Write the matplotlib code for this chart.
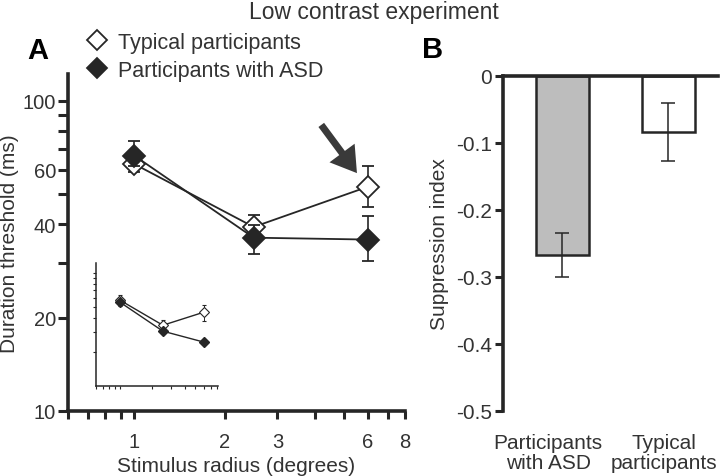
import numpy as np
import matplotlib
matplotlib.use('Agg')
import matplotlib.pyplot as plt
import matplotlib.transforms as mtransforms
from matplotlib.patches import FancyArrowPatch
from matplotlib.lines import Line2D

plt.rcParams['font.family'] = ['Liberation Sans', 'DejaVu Sans']
plt.rcParams['font.size'] = 15

# ---- data (panel A, main) ----
radius = [1.0, 2.5, 6.0]
typical_thr = [62.5, 39.2, 52.8]
typical_lo = [3.5, 3.0, 7.3]
typical_hi = [2.2, 3.7, 8.9]
asd_thr = [66.5, 36.2, 35.7]
asd_lo = [5.0, 4.1, 5.2]
asd_hi = [7.8, 3.5, 6.9]

# ---- data (panel A, inset) ----
inset_radius = [1.0, 2.5, 6.0]
inset_typical = [57.3, 34.4, 44.9]
inset_typical_err = [6.0, 4.0, 7.5]
inset_asd = [55.0, 30.5, 24.4]

# ---- data (panel B) ----
groups = ['Participants\nwith ASD', 'Typical\nparticipants']
supp = [-0.268, -0.084]
supp_err = [0.033, 0.043]
bar_colors = ['#bdbdbd', 'white']

# arrow annotation (data coords of panel A)
arrow_from = (4.15, 85.0)
arrow_to = (5.6, 57.5)

dark = '#262626'
txt = '#333333'

fig = plt.figure(figsize=(7.2, 4.77), dpi=100)

# ================= panel A =================
ax = fig.add_axes([68/720, 1-412/477, 337/720, 337/477])
ax.set_xscale('log')
ax.set_yscale('log')
ax.set_xlim(0.6, 8.0)
ax.set_ylim(10, 122)

ax.errorbar(radius, typical_thr, yerr=[typical_lo, typical_hi], color=dark,
            lw=1.3, marker='D', ms=11, mfc='white', mec=dark, mew=1.3,
            capsize=4, elinewidth=1.2, capthick=1.2, zorder=3)
ax.errorbar(radius, asd_thr, yerr=[asd_lo, asd_hi], color=dark,
            lw=1.3, marker='D', ms=11, mfc=dark, mec=dark, mew=1.3,
            capsize=4, elinewidth=1.2, capthick=1.2, zorder=4)

yt = [10, 20, 30, 40, 50, 60, 70, 80, 90, 100]
ax.set_yticks(yt, [str(v) if v in (10, 20, 40, 60, 100) else '' for v in yt])
xt = [0.6, 0.7, 0.8, 0.9, 1, 2, 3, 4, 5, 6, 7, 8]
ax.set_xticks(xt, [str(v) if v in (1, 2, 3, 6, 8) else '' for v in xt])
ax.minorticks_off()
ax.tick_params(axis='y', which='major', direction='out', length=7, width=2.2, pad=1.5,
               colors=dark, labelcolor=txt, labelsize=14.5)
ax.tick_params(axis='x', which='major', direction='out', length=6, width=2.2, pad=9,
               colors=dark, labelcolor=txt, labelsize=14.5)
for s in ['top', 'right']:
    ax.spines[s].set_visible(False)
for s in ['left', 'bottom']:
    ax.spines[s].set_linewidth(2.6)
    ax.spines[s].set_color(dark)

ax.set_ylabel('Duration threshold (ms)', color=txt, labelpad=3)
ax.set_xlabel('Stimulus radius (degrees)', color=txt, labelpad=3.5)

ax.add_patch(FancyArrowPatch(arrow_from, arrow_to,
                             arrowstyle='simple,head_length=1.0,head_width=1.25,tail_width=0.28',
                             mutation_scale=18, color='#3a3a3a', lw=0, zorder=5))

handles = [Line2D([], [], ls='none', marker='D', ms=10, mfc='white', mec=dark, mew=1.3),
           Line2D([], [], ls='none', marker='D', ms=10, mfc=dark, mec=dark, mew=1.3)]
leg = ax.legend(handles, ['Typical participants', 'Participants with ASD'],
                loc='upper left', bbox_to_anchor=(86/720, 1-33/477),
                bbox_transform=fig.transFigure, frameon=False, handlelength=1.0,
                handletextpad=0.5, labelspacing=0.32, borderpad=0, borderaxespad=0,
                fontsize=15.5)
for t in leg.get_texts():
    t.set_color(txt)

# ---- inset ----
ins = fig.add_axes([96/720, 1-387/477, 122/720, 123/477])
ins.set_xscale('log')
ins.set_yscale('log')
ins.set_xlim(0.6, 8.1)
ins.set_ylim(10, 122)
ins.errorbar(inset_radius, inset_typical, yerr=inset_typical_err, color=dark,
             lw=1.0, marker='D', ms=5, mfc='white', mec=dark, mew=0.8,
             capsize=1.5, elinewidth=0.7, capthick=0.7, zorder=3)
ins.plot(inset_radius, inset_asd, color=dark, lw=1.0, marker='D', ms=5,
         mfc=dark, mec=dark, zorder=4)
ins.set_yticks([20, 30, 40, 50, 60, 70, 80, 90, 100], [])
ins.set_xticks(xt, [])
ins.minorticks_off()
ins.tick_params(direction='out', length=2.5, width=0.8, colors=dark)
for s in ['top', 'right']:
    ins.spines[s].set_visible(False)
for s in ['left', 'bottom']:
    ins.spines[s].set_linewidth(1.1)
    ins.spines[s].set_color(dark)
ins.patch.set_alpha(0)

# ================= panel B =================
bx = fig.add_axes([503/720, 1-411.7/477, 215/720, 335/477])
pos = np.arange(len(groups))
bx.bar(pos, supp, width=0.5, color=bar_colors, edgecolor=dark, linewidth=1.8, zorder=2)
bx.errorbar(pos, supp, yerr=supp_err, fmt='none', ecolor=dark, elinewidth=1.1,
            capsize=5, capthick=1.1, zorder=3)
bx.set_xlim(-0.557, 1.47)
bx.set_ylim(-0.5, 0)
bx.set_yticks([0, -0.1, -0.2, -0.3, -0.4, -0.5], ['0', '-0.1', '-0.2', '-0.3', '-0.4', '-0.5'])
bx.set_xticks(pos, groups)
bx.tick_params(axis='y', direction='out', length=6, width=2.2, pad=2, colors=dark,
               labelcolor=txt, labelsize=15)
bx.tick_params(axis='x', length=0, pad=16, labelcolor=txt, labelsize=15)
for lab, dx in zip(bx.get_xticklabels(), [-14, -4]):
    lab.set_linespacing(1.05)
    lab.set_transform(lab.get_transform() + mtransforms.ScaledTranslation(dx/100, 0, fig.dpi_scale_trans))
bx.spines['right'].set_visible(False)
bx.spines['bottom'].set_visible(False)
for s in ['left', 'top']:
    bx.spines[s].set_linewidth(2.6)
    bx.spines[s].set_color(dark)
bx.set_ylabel('Suppression index', color=txt, labelpad=5)

# titles and panel letters
fig.text(374/720, 1-12/477, 'Low contrast experiment', ha='center', va='center',
         fontsize=16.5, color=txt)
fig.text(27/720, 1-51/477, 'A', ha='left', va='center', fontsize=21, fontweight='bold')
fig.text(422/720, 1-50/477, 'B', ha='left', va='center', fontsize=21, fontweight='bold')

plt.savefig('out.png', dpi=100)
